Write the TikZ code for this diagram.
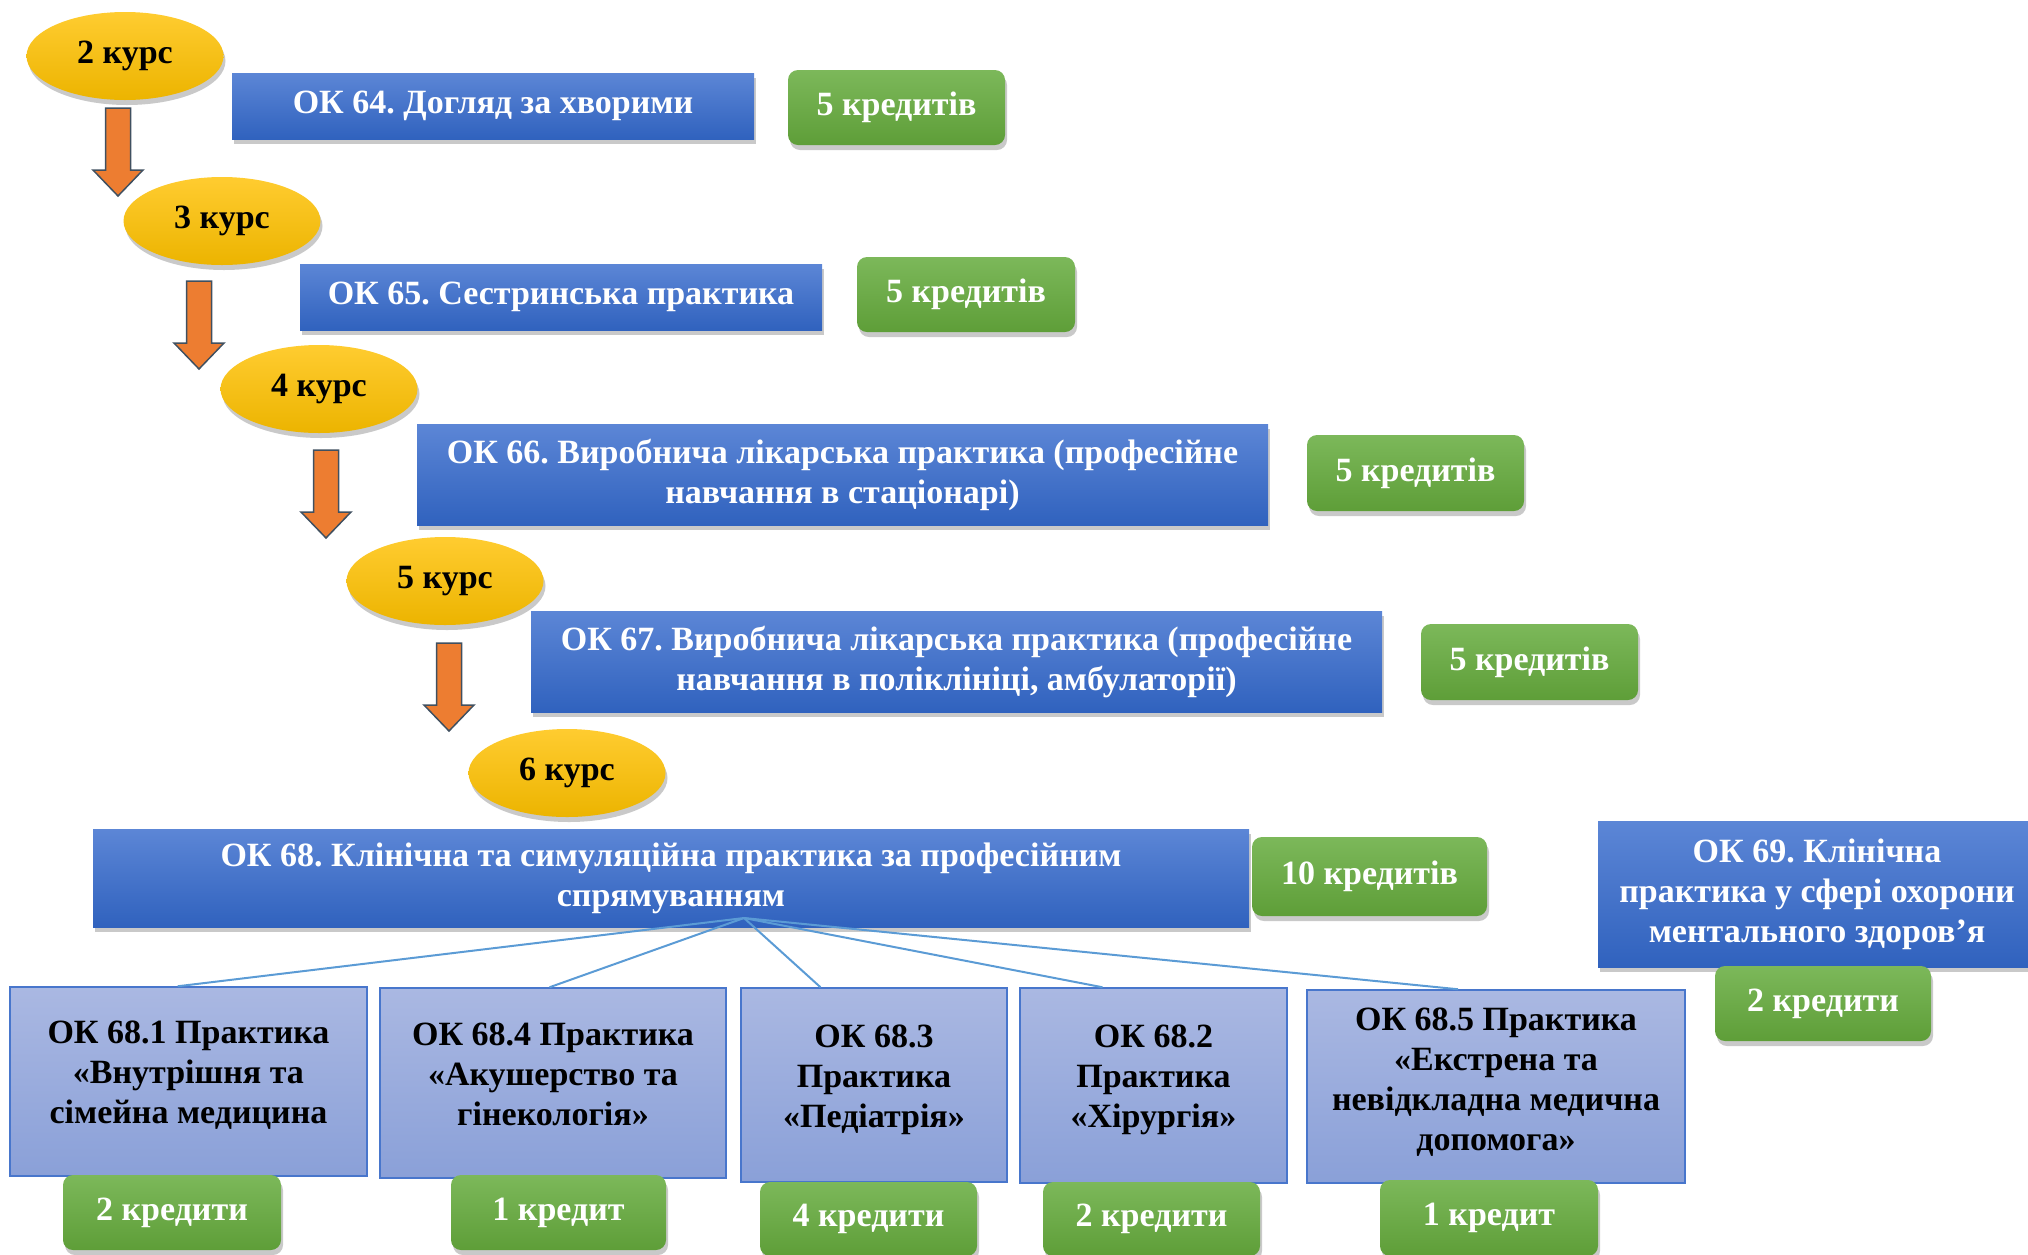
\documentclass[tikz,border=0pt]{standalone}
\usepackage{fontspec}
\setmainfont{Liberation Serif}
\usetikzlibrary{shapes.geometric,shadows,calc}
\definecolor{goldT}{RGB}{255,204,48}
\definecolor{goldB}{RGB}{236,180,0}
\definecolor{blueT}{RGB}{92,134,214}
\definecolor{blueB}{RGB}{48,98,190}
\definecolor{greenT}{RGB}{124,184,90}
\definecolor{greenB}{RGB}{94,158,56}
\definecolor{subT}{RGB}{170,184,226}
\definecolor{subB}{RGB}{138,160,216}
\definecolor{subLine}{RGB}{72,118,204}
\definecolor{connC}{RGB}{91,155,213}
\definecolor{arrOrange}{RGB}{237,125,49}
\definecolor{arrLine}{RGB}{64,80,96}
\frenchspacing
\begin{document}
\begin{tikzpicture}[x=1pt,y=-1pt,
  font=\fontsize{34}{40}\selectfont\bfseries,
  sz/.style 2 args={minimum width=#1pt, minimum height=#2pt},
  shad/.style={drop shadow={shadow xshift=2pt, shadow yshift=-5pt, opacity=0.3, fill=black!70}},
  kurs/.style={ellipse, inner sep=0pt, top color=goldT, bottom color=goldB, text=black, shad, sz={197}{88}},
  okbox/.style={rectangle, inner sep=0pt, top color=blueT, bottom color=blueB, text=white, align=center, shad},
  cred/.style={rectangle, rounded corners=10pt, inner sep=0pt, top color=greenT, bottom color=greenB, text=white, shad},
  subbox/.style={rectangle, inner sep=0pt, draw=subLine, line width=1.5pt, top color=subT, bottom color=subB, text=black, align=center},
  conn/.style={draw=connC, line width=2pt},
  arrowfill/.style={fill=arrOrange, draw=arrLine, line width=1.5pt, line join=miter},
  dnarrow/.pic={\draw[arrowfill] (-12.5,0) -- (12.5,0) -- (12.5,62) -- (25,62) -- (0,88) -- (-25,62) -- (-12.5,62) -- cycle;}
]
\useasboundingbox (0,0) rectangle (2028,1254);
\clip (0,0) rectangle (2028,1254);

% courses
\node[kurs] (k2) at (125,56) {2 курс};
\node[kurs] (k3) at (222,221) {3 курс};
\node[kurs] (k4) at (319,389) {4 курс};
\node[kurs] (k5) at (445,581) {5 курс};
\node[kurs] (k6) at (567,773) {6 курс};

% arrows between courses
\pic at (118,108) {dnarrow};
\pic at (199,281) {dnarrow};
\pic at (326,450) {dnarrow};
\pic at (449,643) {dnarrow};

% practice boxes
\node[okbox, sz={522}{66}] (ok64) at (493,106) {ОК 64. Догляд за хворими};
\node[okbox, sz={522}{66}] (ok65) at (561,297) {ОК 65. Сестринська практика};
\node[okbox, sz={851}{101}] (ok66) at (842.5,474.5) {ОК 66. Виробнича лікарська практика (професійне\\навчання в стаціонарі)};
\node[okbox, sz={851}{101}] (ok67) at (956.5,661.5) {ОК 67. Виробнича лікарська практика (професійне\\навчання в поліклініці, амбулаторії)};
\node[okbox, sz={1156}{98}] (ok68) at (671,878) {ОК 68. Клінічна та симуляційна практика за професійним\\спрямуванням};
\node[okbox, sz={438}{146}] (ok69) at (1817,894) {ОК 69. Клінічна\\практика у сфері охорони\\ментального здоров’я};

% credits
\node[cred, sz={217}{75}] (c64) at (896.5,107.5) {5 кредитів};
\node[cred, sz={218}{75}] (c65) at (966,294.5) {5 кредитів};
\node[cred, sz={217}{76}] (c66) at (1415.5,473) {5 кредитів};
\node[cred, sz={217}{76}] (c67) at (1529.5,662) {5 кредитів};
\node[cred, sz={235}{79}] (c68) at (1369.5,876.5) {10 кредитів};
\node[cred, sz={216}{75}] (c69) at (1823,1003.5) {2 кредити};

% sub practices
\node[subbox, sz={357}{189}] (s1) at (188.5,1081.5) {ОК 68.1 Практика\\«Внутрішня та\\сімейна медицина\\[-22pt]\mbox{}};
\node[subbox, sz={346}{190}] (s4) at (553,1083) {ОК 68.4 Практика\\«Акушерство та\\гінекологія»\\[-22pt]\mbox{}};
\node[subbox, sz={266}{194}] (s3) at (874,1085) {ОК 68.3\\Практика\\«Педіатрія»\\[-22pt]\mbox{}};
\node[subbox, sz={267}{195}] (s2) at (1153.5,1085.5) {ОК 68.2\\Практика\\«Хірургія»\\[-22pt]\mbox{}};
\node[subbox, sz={378}{193}] (s5) at (1496,1086.5) {ОК 68.5 Практика\\«Екстрена та\\невідкладна медична\\допомога»\\[-26pt]\mbox{}};

% connectors
\coordinate (hub) at (744,918);
\draw[conn] (hub) -- ($(s1.north west)!0.47!(s1.north east)$);
\draw[conn] (hub) -- ($(s4.north west)!0.49!(s4.north east)$);
\draw[conn] (hub) -- ($(s3.north west)!0.30!(s3.north east)$);
\draw[conn] (hub) -- ($(s2.north west)!0.31!(s2.north east)$);
\draw[conn] (hub) -- ($(s5.north west)!0.40!(s5.north east)$);

% sub credits
\node[cred, sz={218}{75}] (g1) at (172,1212.5) {2 кредити};
\node[cred, sz={215}{75}] (g4) at (558.5,1212.5) {1 кредит};
\node[cred, sz={217}{74}] (g3) at (868.5,1219) {4 кредити};
\node[cred, sz={217}{74}] (g2) at (1151.5,1219) {2 кредити};
\node[cred, sz={218}{76}] (g5) at (1489,1218) {1 кредит};
\end{tikzpicture}
\end{document}
